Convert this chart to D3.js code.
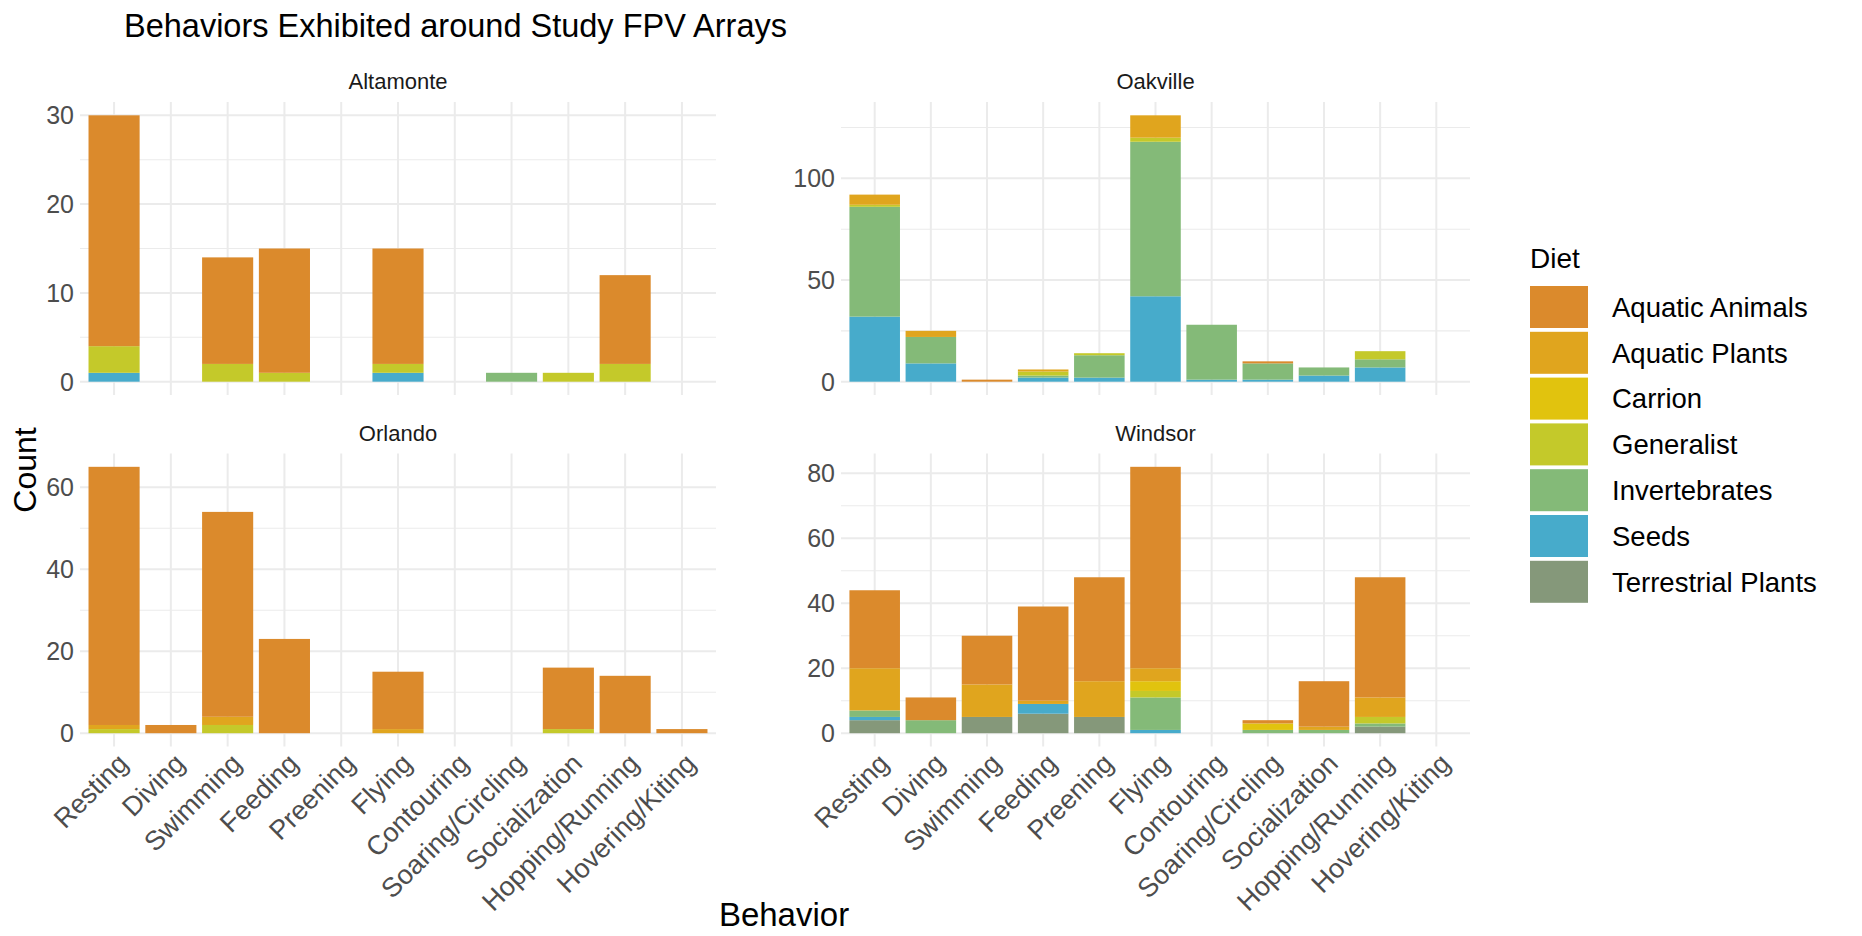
<!DOCTYPE html>
<html>
<head>
<meta charset="utf-8">
<script src="https://cdn.jsdelivr.net/npm/d3@7"></script>
<style>
  body { margin: 0; background: #fff; }
  svg { display: block; font-family: "Liberation Sans", Arial, sans-serif; }
</style>
</head>
<body>
<svg width="1862" height="936"></svg>
<script>
// Categories
const behaviors = ["Resting", "Diving", "Swimming", "Feeding", "Preening", "Flying",
  "Contouring", "Soaring/Circling", "Socialization", "Hopping/Running", "Hovering/Kiting"];
const diets = ["Aquatic Animals", "Aquatic Plants", "Carrion", "Generalist",
  "Invertebrates", "Seeds", "Terrestrial Plants"];
const dietColors = ["#DB8A2C", "#E0A51E", "#E1C30E", "#C4C92A", "#84BA78", "#47ABCB", "#85987A"];

// Counts per site: one row per diet (same order as diets), one value per behavior
const altamonte = [
  [26, 0, 12, 14, 0, 13, 0, 0, 0, 10, 0],
  [0, 0, 0, 0, 0, 0, 0, 0, 0, 0, 0],
  [0, 0, 0, 0, 0, 0, 0, 0, 0, 0, 0],
  [3, 0, 2, 1, 0, 1, 0, 0, 1, 2, 0],
  [0, 0, 0, 0, 0, 0, 0, 1, 0, 0, 0],
  [1, 0, 0, 0, 0, 1, 0, 0, 0, 0, 0],
  [0, 0, 0, 0, 0, 0, 0, 0, 0, 0, 0]
];
const oakville = [
  [0, 0, 1, 0, 0, 0, 0, 1, 0, 0, 0],
  [5, 3, 0, 1, 0, 11, 0, 0, 0, 0, 0],
  [0, 0, 0, 0, 0, 0, 0, 0, 0, 0, 0],
  [1, 0, 0, 2, 1, 2, 0, 0, 0, 4, 0],
  [54, 13, 0, 1, 11, 76, 27, 8, 4, 4, 0],
  [32, 9, 0, 2, 2, 42, 1, 1, 3, 7, 0],
  [0, 0, 0, 0, 0, 0, 0, 0, 0, 0, 0]
];
const orlando = [
  [63, 2, 50, 23, 0, 14, 0, 0, 15, 14, 1],
  [1, 0, 2, 0, 0, 1, 0, 0, 0, 0, 0],
  [0, 0, 0, 0, 0, 0, 0, 0, 0, 0, 0],
  [1, 0, 2, 0, 0, 0, 0, 0, 1, 0, 0],
  [0, 0, 0, 0, 0, 0, 0, 0, 0, 0, 0],
  [0, 0, 0, 0, 0, 0, 0, 0, 0, 0, 0],
  [0, 0, 0, 0, 0, 0, 0, 0, 0, 0, 0]
];
const windsor = [
  [24, 7, 15, 29, 32, 62, 0, 1, 14, 37, 0],
  [13, 0, 10, 1, 11, 4, 0, 0, 1, 6, 0],
  [0, 0, 0, 0, 0, 3, 0, 2, 0, 0, 0],
  [0, 0, 0, 0, 0, 2, 0, 0, 0, 2, 0],
  [2, 4, 0, 0, 0, 10, 0, 1, 1, 1, 0],
  [1, 0, 0, 3, 0, 1, 0, 0, 0, 0, 0],
  [4, 0, 5, 6, 5, 0, 0, 0, 0, 2, 0]
];

// y tick labels per panel
const altamonteTicks = [0, 10, 20, 30];
const oakvilleTicks = [0, 50, 100];
const orlandoTicks = [0, 20, 40, 60];
const windsorTicks = [0, 20, 40, 60, 80];

const svg = d3.select("svg");

// layout
const colX = [80, 841];
const colW = [636, 629];
const rowY = [102, 453.5];
const panelH = 293;
const gridColor = "#EBEBEB";
const tickColor = "#4D4D4D";

const panels = [
  { name: "Altamonte", counts: altamonte, ticks: altamonteTicks, col: 0, row: 0 },
  { name: "Oakville", counts: oakville, ticks: oakvilleTicks, col: 1, row: 0 },
  { name: "Orlando", counts: orlando, ticks: orlandoTicks, col: 0, row: 1 },
  { name: "Windsor", counts: windsor, ticks: windsorTicks, col: 1, row: 1 }
];

// Title
svg.append("text")
    .attr("x", 124)
    .attr("y", 37)
    .style("font-size", "32.5px")
    .style("fill", "#000")
    .text("Behaviors Exhibited around Study FPV Arrays");

const stackKeys = diets.slice().reverse();   // terrestrial plants at the bottom
const color = d3.scaleOrdinal().domain(diets).range(dietColors);

panels.forEach(function (p) {
  const x0 = colX[p.col];
  const w = colW[p.col];
  const y0 = rowY[p.row];

  // rows as objects for d3.stack
  const rows = behaviors.map(function (b, i) {
    const r = { behavior: b };
    diets.forEach(function (d, j) { r[d] = p.counts[j][i]; });
    return r;
  });
  const maxTotal = d3.max(rows, r => d3.sum(diets, d => r[d]));

  const x = d3.scaleBand()
      .domain(behaviors)
      .range([x0, x0 + w])
      .paddingInner(0.1)
      .paddingOuter(0.15);
  const y = d3.scaleLinear()
      .domain([-0.05 * maxTotal, 1.05 * maxTotal])
      .range([y0 + panelH, y0]);

  const g = svg.append("g").attr("class", "panel");

  // minor horizontal grid
  const step = p.ticks[1] - p.ticks[0];
  const minor = d3.range(-step / 2, 1.05 * maxTotal, step).filter(v => v > y.domain()[0] && v < y.domain()[1]);
  g.selectAll("line.minor")
    .data(minor).enter()
    .append("line")
      .attr("x1", x0).attr("x2", x0 + w)
      .attr("y1", d => y(d)).attr("y2", d => y(d))
      .attr("stroke", gridColor)
      .attr("stroke-width", 1.1);

  // major horizontal grid
  g.selectAll("line.major")
    .data(p.ticks).enter()
    .append("line")
      .attr("x1", x0).attr("x2", x0 + w)
      .attr("y1", d => y(d)).attr("y2", d => y(d))
      .attr("stroke", gridColor)
      .attr("stroke-width", 2);

  // vertical grid
  g.selectAll("line.vgrid")
    .data(behaviors).enter()
    .append("line")
      .attr("x1", d => x(d) + x.bandwidth() / 2)
      .attr("x2", d => x(d) + x.bandwidth() / 2)
      .attr("y1", y0).attr("y2", y0 + panelH)
      .attr("stroke", gridColor)
      .attr("stroke-width", 2);

  // stacked bars
  const series = d3.stack().keys(stackKeys)(rows);
  g.selectAll("g.series")
    .data(series).enter()
    .append("g")
      .attr("fill", d => color(d.key))
    .selectAll("rect")
    .data(d => d.filter(s => s[1] > s[0])).enter()
    .append("rect")
      .attr("x", d => x(d.data.behavior))
      .attr("width", x.bandwidth())
      .attr("y", d => y(d[1]))
      .attr("height", d => y(d[0]) - y(d[1]));

  // y tick labels
  g.selectAll("text.ytick")
    .data(p.ticks).enter()
    .append("text")
      .attr("x", x0 - 6)
      .attr("y", d => y(d))
      .attr("dy", "0.36em")
      .attr("text-anchor", "end")
      .style("font-size", "25px")
      .style("fill", tickColor)
      .text(d => d);

  // strip label
  g.append("text")
      .attr("x", x0 + w / 2)
      .attr("y", y0 - 13)
      .attr("text-anchor", "middle")
      .style("font-size", "22px")
      .style("fill", "#1A1A1A")
      .text(p.name);

  // x tick labels on the bottom row only
  if (p.row === 1) {
    g.selectAll("text.xtick")
      .data(behaviors).enter()
      .append("text")
        .attr("text-anchor", "end")
        .attr("dy", "0.71em")
        .attr("transform", d => "translate(" + [x(d) + x.bandwidth() / 2 + 2, y0 + panelH + 5] + ")rotate(-45)")
        .style("font-size", "27px")
        .style("fill", tickColor)
        .text(d => d);
  }
});

// axis titles
svg.append("text")
    .attr("transform", "translate(" + [36, 470] + ")rotate(-90)")
    .attr("text-anchor", "middle")
    .style("font-size", "32px")
    .style("fill", "#000")
    .text("Count");

svg.append("text")
    .attr("x", 784)
    .attr("y", 926)
    .attr("text-anchor", "middle")
    .style("font-size", "33px")
    .style("fill", "#000")
    .text("Behavior");

// legend
const legend = svg.append("g").attr("transform", "translate(1530,0)");
legend.append("text")
    .attr("x", 0)
    .attr("y", 268)
    .style("font-size", "28px")
    .style("fill", "#000")
    .text("Diet");

const keys = legend.selectAll("g.key")
  .data(diets).enter()
  .append("g")
    .attr("transform", (d, i) => "translate(0," + (286 + i * 45.8) + ")");
keys.append("rect")
    .attr("width", 58)
    .attr("height", 42)
    .attr("fill", d => color(d));
keys.append("text")
    .attr("x", 82)
    .attr("y", 21)
    .attr("dy", "0.36em")
    .style("font-size", "27.5px")
    .style("fill", "#000")
    .text(d => d);
</script>
</body>
</html>
